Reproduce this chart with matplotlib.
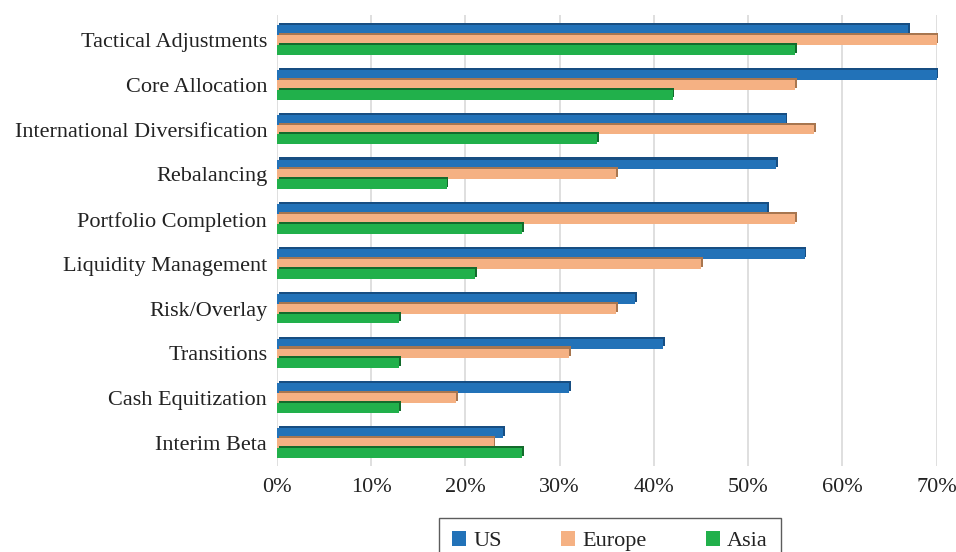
import numpy as np
import matplotlib
matplotlib.use("Agg")
import matplotlib.pyplot as plt
import matplotlib.patheffects as pe
from matplotlib.patches import Patch

categories = ["Tactical Adjustments", "Core Allocation", "International Diversification",
              "Rebalancing", "Portfolio Completion", "Liquidity Management",
              "Risk/Overlay", "Transitions", "Cash Equitization", "Interim Beta"]
us = [67, 70, 54, 53, 52, 56, 38, 41, 31, 24]
europe = [70, 55, 57, 36, 55, 45, 36, 31, 19, 23]
asia = [55, 42, 34, 18, 26, 21, 13, 13, 13, 26]

series = [("US", us, "#2272B8", "#174E82"),
          ("Europe", europe, "#F5B183", "#A8764F"),
          ("Asia", asia, "#21B04B", "#136B2C")]

plt.rcParams['font.family'] = ['Liberation Serif', 'DejaVu Serif']

fig = plt.figure(figsize=(9.56, 5.52), dpi=100)
ax = fig.add_axes([0.2897, 0.156, 0.690, 0.817])

y = np.arange(len(categories))
h = 0.22
for i, (name, vals, col, dark) in enumerate(series):
    bars = ax.barh(y + (i - 1) * h, vals, height=h, color=col, clip_on=False, zorder=3)
    for b in bars:
        b.set_path_effects([pe.SimplePatchShadow(offset=(1.2, 1.5), shadow_rgbFace=dark, alpha=1.0),
                            pe.Normal()])

ax.set_xlim(0, 70)
ax.set_ylim(9.51, -0.56)
ax.set_xticks(np.arange(0, 71, 10))
ax.set_xticklabels([f"{v}%" for v in range(0, 71, 10)])
ax.set_yticks(y)
ax.set_yticklabels(categories)
ax.tick_params(axis='both', length=0, labelsize=16, colors='#222222')
ax.tick_params(axis='x', pad=9)
ax.tick_params(axis='y', pad=7)
ax.grid(axis='x', color='#D9D9D9', linewidth=1.2, zorder=0)
for s in ax.spines.values():
    s.set_visible(False)

handles = [Patch(facecolor=c, label=n) for n, _, c, _ in series]
leg = fig.legend(handles=handles, loc='upper center', bbox_to_anchor=(0.638, 0.062),
                 ncol=3, fontsize=16, frameon=True, fancybox=False, edgecolor='#333333',
                 handlelength=0.65, handleheight=0.65, handletextpad=0.32, columnspacing=2.65,
                 borderpad=0.6, borderaxespad=0)
leg.get_frame().set_linewidth(1.0)
for t in leg.get_texts():
    t.set_color('#222222')

fig.savefig("out.png", dpi=100)
